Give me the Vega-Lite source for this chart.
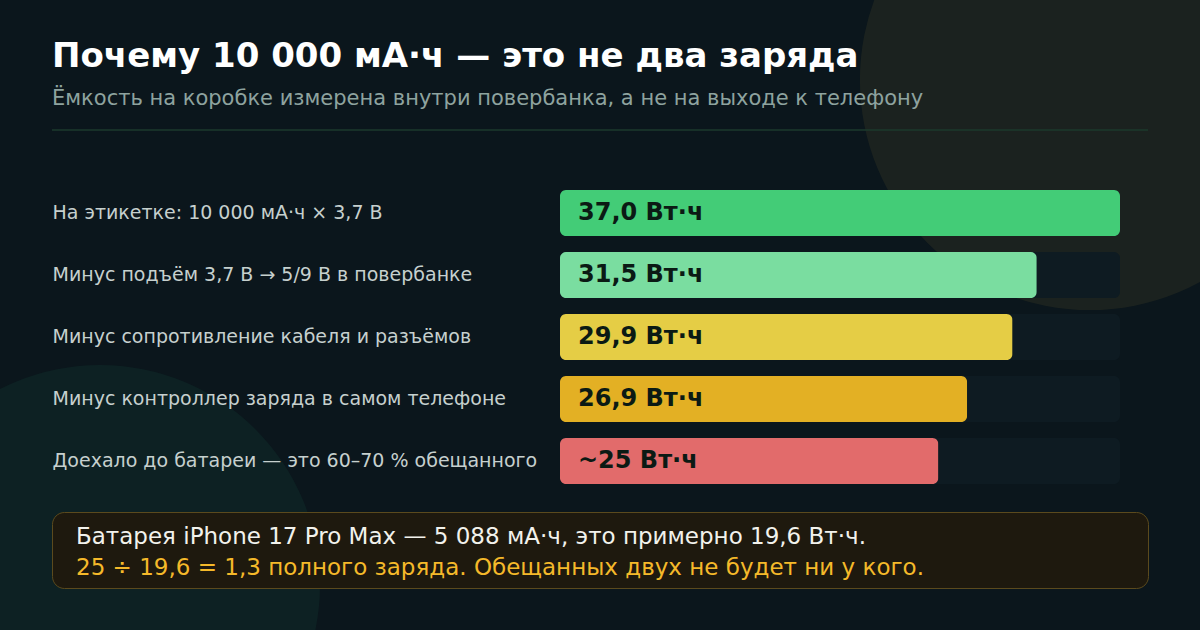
{
  "$schema": "https://vega.github.io/schema/vega-lite/v6.json",
  "background": "#0b161c",
  "autosize": "none",
  "padding": {"left": 52, "top": 130, "right": 1148, "bottom": 500},
  "bounds": "flush",
  "spacing": 20,
  "resolve": {"scale": {"color": "independent", "x": "independent", "y": "independent"}},
  "title": {
    "text": "Почему 10 000 мА·ч — это не два заряда",
    "subtitle": "Ёмкость на коробке измерена внутри повербанка, а не на выходе к телефону",
    "anchor": "start",
    "frame": "group",
    "font": "DejaVu Sans",
    "fontSize": 34,
    "fontWeight": "bold",
    "color": "#ffffff",
    "subtitleFont": "DejaVu Sans",
    "subtitleFontSize": 21,
    "subtitleColor": "#8ea39f",
    "subtitlePadding": 14,
    "offset": -259
  },
  "config": {"view": {"stroke": null}, "font": "DejaVu Sans"},
  "vconcat": [
    {
      "width": 1096,
      "height": 32,
      "data": {"values": [{}]},
      "layer": [
        {
          "mark": {"type": "point", "shape": "circle", "filled": true, "color": "#f5c542", "opacity": 0.07, "size": 211600},
          "encoding": {
            "x": {"datum": 0.947, "type": "quantitative", "scale": {"domain": [0, 1], "nice": false, "zero": false}, "axis": null},
            "y": {"datum": -1.5625, "type": "quantitative", "scale": {"domain": [0, 1], "reverse": true, "nice": false, "zero": false}, "axis": null}
          }
        },
        {
          "mark": {"type": "point", "shape": "circle", "filled": true, "color": "#2fb57a", "opacity": 0.07, "size": 193600},
          "encoding": {
            "x": {"datum": 0.0438, "type": "quantitative"},
            "y": {"datum": 14.22, "type": "quantitative"}
          }
        },
        {
          "mark": {"type": "rule", "color": "#1d3a2d", "strokeWidth": 1.5},
          "encoding": {"y": {"datum": 0, "type": "quantitative"}}
        }
      ]
    },
    {
      "width": 1068,
      "height": 310,
      "data": {
        "values": [
          {"step": "На этикетке: 10 000 мА·ч × 3,7 В", "wh": 37.0, "label": "37,0 Вт·ч"},
          {"step": "Минус подъём 3,7 В → 5/9 В в повербанке", "wh": 31.5, "label": "31,5 Вт·ч"},
          {"step": "Минус сопротивление кабеля и разъёмов", "wh": 29.9, "label": "29,9 Вт·ч"},
          {"step": "Минус контроллер заряда в самом телефоне", "wh": 26.9, "label": "26,9 Вт·ч"},
          {"step": "Доехало до батареи — это 60–70 % обещанного", "wh": 25.0, "label": "~25 Вт·ч"}
        ]
      },
      "encoding": {
        "y": {
          "field": "step",
          "type": "nominal",
          "sort": null,
          "scale": {"paddingInner": 0.258, "paddingOuter": 0.129},
          "axis": {
            "orient": "left",
            "title": null,
            "domain": false,
            "ticks": false,
            "tickSize": 0,
            "labelPadding": 0,
            "labelAlign": "left",
            "labelFont": "DejaVu Sans",
            "labelFontSize": 19,
            "labelColor": "#c6d0ce",
            "labelLimit": 0
          }
        }
      },
      "layer": [
        {
          "mark": {"type": "bar", "color": "#0e1b22", "cornerRadius": 6},
          "encoding": {
            "x": {"datum": 37, "type": "quantitative", "scale": {"domain": [0, 37], "nice": false, "range": [508, 1068]}, "axis": null}
          }
        },
        {
          "mark": {"type": "bar", "cornerRadius": 6},
          "encoding": {
            "x": {"field": "wh", "type": "quantitative"},
            "color": {
              "field": "step",
              "type": "nominal",
              "sort": null,
              "scale": {
                "domain": [
                  "На этикетке: 10 000 мА·ч × 3,7 В",
                  "Минус подъём 3,7 В → 5/9 В в повербанке",
                  "Минус сопротивление кабеля и разъёмов",
                  "Минус контроллер заряда в самом телефоне",
                  "Доехало до батареи — это 60–70 % обещанного"
                ],
                "range": ["#43cc77", "#7adda0", "#e5cd45", "#e3b024", "#e26b6b"]
              },
              "legend": null
            }
          }
        },
        {
          "mark": {"type": "text", "align": "left", "baseline": "middle", "dx": 18, "font": "DejaVu Sans", "fontWeight": "bold", "fontSize": 24, "color": "#0b1a14"},
          "encoding": {
            "x": {"datum": 0, "type": "quantitative"},
            "text": {"field": "label"}
          }
        }
      ]
    },
    {
      "width": 1096,
      "height": 76,
      "view": {"fill": "#1e190e", "stroke": "#5b4a1d", "strokeWidth": 1, "cornerRadius": 12},
      "data": {
        "values": [
          {"line": "1", "text": "Батарея iPhone 17 Pro Max — 5 088 мА·ч, это примерно 19,6 Вт·ч."},
          {"line": "2", "text": "25 ÷ 19,6 = 1,3 полного заряда. Обещанных двух не будет ни у кого."}
        ]
      },
      "mark": {"type": "text", "align": "left", "baseline": "middle", "dx": 24, "font": "DejaVu Sans", "fontSize": 23},
      "encoding": {
        "x": {"datum": 0, "type": "quantitative", "scale": {"domain": [0, 1]}, "axis": null},
        "y": {"field": "line", "type": "ordinal", "scale": {"type": "band", "paddingInner": 0, "paddingOuter": 0.2258, "align": 0.68}, "axis": null},
        "text": {"field": "text"},
        "color": {"field": "line", "type": "ordinal", "scale": {"domain": ["1", "2"], "range": ["#f2f2ec", "#f5b92a"]}, "legend": null}
      }
    }
  ]
}
